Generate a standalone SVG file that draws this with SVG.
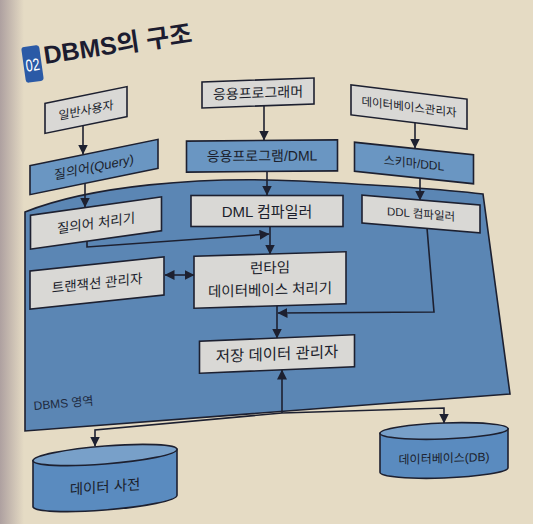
<svg xmlns="http://www.w3.org/2000/svg" width="533" height="524" viewBox="0 0 533 524">
<defs>
<linearGradient id="shade" x1="0" y1="0" x2="1" y2="0">
<stop offset="0" stop-color="#a89a9c" stop-opacity="0.9"/>
<stop offset="1" stop-color="#a89a9c" stop-opacity="0"/>
</linearGradient>
<marker id="ah" viewBox="0 0 10 10" refX="9.5" refY="5" markerWidth="10" markerHeight="10" markerUnits="userSpaceOnUse" orient="auto-start-reverse">
<path d="M0,0 L10,5 L0,10 z" fill="#1d2030"/>
</marker>
<style>
.box{fill:#d9d8d5;stroke:#1d2030;stroke-width:1.6}
.bbox{fill:#6a96c2;stroke:#1d2030;stroke-width:1.6}
.cyl{fill:#5a8bbf;stroke:#1d2030;stroke-width:1.6}
.cyltop{fill:#78a0c9;stroke:#1d2030;stroke-width:1.6}
.t{font-family:"Liberation Sans","Noto Sans CJK KR",sans-serif;fill:#1b1e2c;text-anchor:middle}
.conn{fill:none;stroke:#1d2030;stroke-width:1.6}
.arr{marker-end:url(#ah)}
</style>
</defs>
<rect x="0" y="0" width="533" height="524" fill="#e5dbc4"/>
<rect x="0" y="0" width="24" height="524" fill="url(#shade)"/>

<g id="title">
<g transform="rotate(-8 32 64)">
<rect x="23.5" y="46" width="18" height="36" rx="3" fill="#2b5aa6"/>
<text x="32.5" y="71" font-family="Liberation Sans, sans-serif" font-size="17" fill="#ffffff" text-anchor="middle" textLength="14" lengthAdjust="spacingAndGlyphs">02</text>
</g>
<text x="45" y="64" transform="rotate(-8.5 45 64)" font-family="Liberation Sans, 'Noto Sans CJK KR', sans-serif" font-size="25" font-weight="bold" fill="#1c1c30">DBMS의 구조</text>
</g>

<g id="dbms-area">
<path d="M25,212 C90,186 200,176 300,181 S440,189 483,194 L510,394 L25,431 Z" fill="#5b86b4" stroke="#1d2030" stroke-width="1.6"/>
<text x="34" y="410" transform="rotate(-5 34 410)" font-family="Liberation Sans, 'Noto Sans CJK KR', sans-serif" font-size="12" fill="#1e2a40">DBMS 영역</text>
</g>

<g id="n-user" transform="translate(86,110) skewY(-11.5)">
<rect class="box" x="-41" y="-15" width="82" height="30"/>
<text class="t" x="0" y="4.5" font-size="12">일반사용자</text>
</g>
<g id="n-programmer" transform="translate(258,93) skewY(-2)">
<rect class="box" x="-56" y="-13" width="112" height="26"/>
<text class="t" x="0" y="5" font-size="14">응용프로그래머</text>
</g>
<g id="n-dba" transform="translate(409,107) skewY(7)">
<rect class="box" x="-58" y="-15" width="116" height="30"/>
<text class="t" x="0" y="4" font-size="11.5">데이터베이스관리자</text>
</g>
<g id="n-query" transform="translate(94,167) skewY(-11.6)">
<rect class="bbox" x="-64" y="-14.5" width="128" height="29"/>
<text class="t" x="0" y="4.5" font-size="13">질의어(Query)</text>
</g>
<g id="n-appdml" transform="translate(262,156) skewY(-0.5)">
<rect class="bbox" x="-75.5" y="-15.5" width="151" height="31"/>
<text class="t" x="0" y="5" font-size="14">응용프로그램/DML</text>
</g>
<g id="n-schema" transform="translate(414,163) skewY(6)">
<rect class="bbox" x="-59.5" y="-14.5" width="119" height="29"/>
<text class="t" x="0" y="4.5" font-size="12">스키마/DDL</text>
</g>
<g id="n-qproc" transform="translate(96,223) skewY(-8)">
<rect class="box" x="-65.5" y="-17" width="131" height="34"/>
<text class="t" x="0" y="5" font-size="13.5">질의어 처리기</text>
</g>
<g id="n-dmlc" transform="translate(267,211)">
<rect class="box" x="-76" y="-15.5" width="152" height="31"/>
<text class="t" x="0" y="5.5" font-size="15">DML 컴파일러</text>
</g>
<g id="n-ddlc" transform="translate(421,214) skewY(4.8)">
<rect class="box" x="-59" y="-14" width="118" height="28"/>
<text class="t" x="0" y="4" font-size="11.5">DDL 컴파일러</text>
</g>
<g id="n-tx" transform="translate(97,283) skewY(-6)">
<rect class="box" x="-67" y="-19" width="134" height="38"/>
<text class="t" x="0" y="5" font-size="13.5">트랜잭션 관리자</text>
</g>
<g id="n-runtime" transform="translate(270,280) skewY(-1.7)">
<rect class="box" x="-76" y="-26" width="152" height="52"/>
<text class="t" x="0" y="-7" font-size="14.5">런타임</text>
<text class="t" x="0" y="15" font-size="14.5">데이터베이스 처리기</text>
</g>
<g id="n-storage" transform="translate(277,354) skewY(-2.4)">
<rect class="box" x="-77.5" y="-16" width="155" height="32"/>
<text class="t" x="0" y="5.5" font-size="15.5">저장 데이터 관리자</text>
</g>
<g id="n-dict" transform="translate(105,477) skewY(-4.5)">
<path class="cyl" d="M-72,-22 L-72,24 A72,9 0 0 0 72,24 L72,-22 Z"/>
<ellipse class="cyltop" cx="0" cy="-22" rx="72" ry="9"/>
<text class="t" x="0" y="15" font-size="14.5">데이터 사전</text>
</g>
<g id="n-db" transform="translate(444,450) skewY(-2)">
<path class="cyl" d="M-64,-19 L-64,20 A64,8 0 0 0 64,20 L64,-19 Z"/>
<ellipse class="cyltop" cx="0" cy="-19" rx="64" ry="8"/>
<text class="t" x="0" y="12.5" font-size="12">데이터베이스(DB)</text>
</g>

<g id="connectors">
<path class="conn arr" d="M83,126 L83,154"/>
<path class="conn arr" d="M264,106 L264,140"/>
<path class="conn arr" d="M415,123 L415,148"/>
<path class="conn arr" d="M85,183 L85,207"/>
<path class="conn arr" d="M267,171 L267,195"/>
<path class="conn arr" d="M420,178 L420,200"/>
<path class="conn arr" d="M87,241 L87,247 L269,234"/>
<path class="conn arr" d="M270,226 L270,254"/>
<path class="conn arr" d="M277,306 L277,338"/>
<path class="conn arr" d="M427,228 L434,312 L278,313"/>
<path class="conn" d="M165,275 L194,275" marker-start="url(#ah)" marker-end="url(#ah)"/>
<path class="conn arr" d="M282,413 L282,370"/>
<path class="conn arr" d="M282,413 L95,430 L95,446"/>
<path class="conn arr" d="M282,413 L444,408 L444,423"/>
</g>
</svg>
